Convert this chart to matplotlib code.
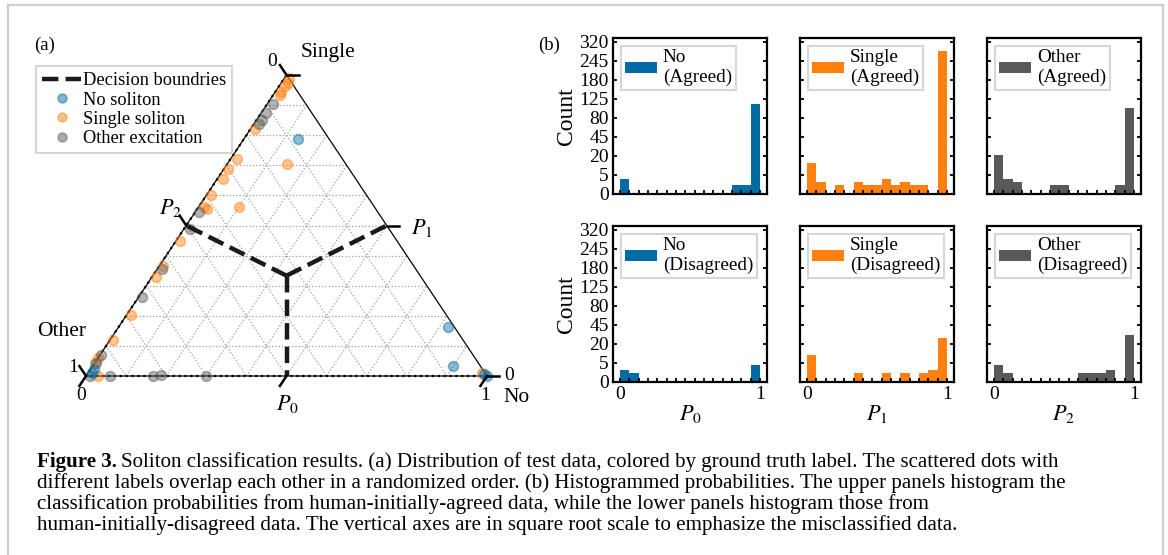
import numpy as np
import matplotlib
matplotlib.use("Agg")
import matplotlib.pyplot as plt
from matplotlib.lines import Line2D

plt.rcParams['font.family'] = ['Liberation Serif', 'DejaVu Serif']
plt.rcParams['mathtext.fontset'] = 'stix'

# ---------------- data ----------------
# ternary scatter: (P0, P1) per ground-truth class; P2 = 1 - P0 - P1
no_p0 = [0.135, 0.820, 0.898, 1.000, 0.990, 0.010, 0.009]
no_p1 = [0.789, 0.164, 0.033, 0.000, 0.005, 0.022, 0.011]

single_p0 = [0.012, 0.015, 0.015, 0.016, 0.016, 0.015, 0.010, 0.014, 0.012, 0.013,
             0.024, 0.011, 0.009, 0.011, 0.010, 0.008, 0.000, 0.030, 0.000, 0.148,
             0.099, 0.982, 0.012]
single_p1 = [0.989, 0.975, 0.962, 0.942, 0.934, 0.721, 0.689, 0.656, 0.601, 0.563,
             0.555, 0.448, 0.366, 0.328, 0.202, 0.120, 0.060, 0.000, 0.044, 0.705,
             0.563, 0.011, 0.820]

other_p0 = [0.015, 0.012, 0.014, 0.014, 0.009, 0.014, 0.011, 0.008, 0.003, 0.060,
            0.167, 0.187, 0.299, 0.009, 0.004]
other_p1 = [0.902, 0.874, 0.852, 0.836, 0.546, 0.490, 0.355, 0.262, 0.071, 0.000,
            0.000, 0.002, 0.000, 0.000, 0.044]

# histograms: 15 bins on [0, 1]
bin_edges = np.linspace(0, 1, 16)
no_agreed = [3, 0, 0, 0, 0, 0, 0, 0, 0, 0, 0, 0, 1, 1, 112]
single_agreed = [13, 2, 0, 1, 0, 2, 1, 1, 3, 1, 2, 1, 1, 0, 282]
other_agreed = [21, 3, 2, 0, 0, 0, 1, 1, 0, 0, 0, 0, 0, 1, 102]
no_disagreed = [2, 1, 0, 0, 0, 0, 0, 0, 0, 0, 0, 0, 0, 0, 4]
single_disagreed = [10, 0, 0, 0, 0, 1, 0, 0, 1, 0, 1, 0, 1, 2, 27]
other_disagreed = [4, 1, 0, 0, 0, 0, 0, 0, 0, 1, 1, 1, 2, 0, 30]

y_ticks = [0, 5, 20, 45, 80, 125, 180, 245, 320]
class_names = ["No", "Single", "Other"]
p_labels = [r"$P_0$", r"$P_1$", r"$P_2$"]

C_BLUE, C_ORANGE, C_GRAY = '#006BA4', '#FF800E', '#595959'

# ---------------- figure ----------------
W, H = 1168, 555
fig = plt.figure(figsize=(W / 100, H / 100), dpi=100)


def rect(x0, y0, x1, y1):
    return [x0 / W, 1 - y1 / H, (x1 - x0) / W, (y1 - y0) / H]


def px(x, y):
    return x / W, 1 - y / H


# border
for xs, ys in [([8, 8], [5, 555]), ([8, 1163], [5, 5]), ([1163, 1163], [5, 555])]:
    fig.add_artist(Line2D([x / W for x in xs], [1 - y / H for y in ys],
                          color='#cfcfcf', lw=1.6))

# ---------------- ternary ----------------
S = np.sqrt(3) / 2
axT = fig.add_axes(rect(86, 75, 487, 376))
axT.set_xlim(0, 1)
axT.set_ylim(0, S)
axT.axis('off')


def cart(p0, p1):
    p0 = np.asarray(p0, float)
    p1 = np.asarray(p1, float)
    return p0 + 0.5 * p1, S * p1


# grid
for v in np.arange(1, 10) / 10:
    for a, b in [((v, 0), (v, 1 - v)), ((0, v), (1 - v, v)), ((0, 1 - v), (1 - v, 0))]:
        x, y = cart([a[0], b[0]], [a[1], b[1]])
        axT.plot(x, y, color='#a0a0a0', ls=':', lw=0.9, zorder=1)

# edges
x, y = cart([0, 1, 0, 0], [0, 0, 1, 0])
axT.plot(x, y, color='black', lw=0.9, zorder=2, clip_on=False)
x, y = cart([1, 0, 0], [0, 0, 1])
axT.plot(x, y, color='black', lw=1.6, ls=':', zorder=2, clip_on=False)

# scatter
for p0, p1, c in [(single_p0, single_p1, C_ORANGE), (other_p0, other_p1, C_GRAY),
                  (no_p0, no_p1, C_BLUE)]:
    x, y = cart(p0, p1)
    axT.scatter(x, y, s=50, color=c, alpha=0.45, linewidths=1.2, zorder=3, clip_on=False)

# decision boundaries
cx, cy = cart(1 / 3, 1 / 3)
for m0, m1 in [(0.5, 0.0), (0.5, 0.5), (0.0, 0.5)]:
    mx, my = cart(m0, m1)
    axT.plot([cx, mx], [cy, my], color='#1a1a1a', lw=3.2, ls='--', zorder=4,
             solid_capstyle='butt', dash_capstyle='butt')

# ticks
k = 0.033
for v in [0, 0.5, 1]:
    x, y = cart(v, 0)                     # P0 axis (bottom)
    axT.plot([x, x - 0.5 * k], [y, y - S * k], color='black', lw=1.8, clip_on=False, zorder=5)
    x, y = cart(1 - v, v)                 # P1 axis (right)
    axT.plot([x, x + 0.03], [y, y], color='black', lw=1.8, clip_on=False, zorder=5)
    x, y = cart(0, 1 - v)                 # P2 axis (left)
    axT.plot([x, x - 0.5 * k], [y, y + S * k], color='black', lw=1.8, clip_on=False, zorder=5)

tfs = 14
for t, (xx, yy) in [("0", (272, 62)), ("1", (73, 367)), ("0", (81, 396)),
                    ("1", (485, 396)), ("0", (509, 376))]:
    fig.text(*px(xx, yy), t, fontsize=tfs, ha='center', va='center')
fig.text(*px(328, 53), "Single", fontsize=15.5, ha='center', va='center')
fig.text(*px(517, 397), "No", fontsize=15.5, ha='center', va='center')
fig.text(*px(62, 331), "Other", fontsize=15.5, ha='center', va='center')
fig.text(*px(287, 404), p_labels[0], fontsize=16, ha='center', va='center')
fig.text(*px(422, 228), p_labels[1], fontsize=16, ha='center', va='center')
fig.text(*px(171, 208), p_labels[2], fontsize=16, ha='center', va='center')
fig.text(*px(45, 45), "(a)", fontsize=13.5, ha='center', va='center')

handles = [Line2D([], [], color='#1a1a1a', lw=3.2, ls='--'),
           Line2D([], [], ls='none', marker='o', ms=6.5, color=C_BLUE, alpha=0.5),
           Line2D([], [], ls='none', marker='o', ms=6.5, color=C_ORANGE, alpha=0.5),
           Line2D([], [], ls='none', marker='o', ms=6.5, color=C_GRAY, alpha=0.5)]
leg = fig.legend(handles, ["Decision boundries", "No soliton", "Single soliton",
                           "Other excitation"],
                 loc='upper left', bbox_to_anchor=px(36, 66), fontsize=13.2,
                 fancybox=False, edgecolor='#d6d6d6', framealpha=1,
                 handlelength=2.1, handletextpad=0.1, labelspacing=0.12,
                 borderpad=0.35, borderaxespad=0)
leg.get_frame().set_linewidth(1.5)

# ---------------- histograms ----------------
rows = [[no_agreed, single_agreed, other_agreed],
        [no_disagreed, single_disagreed, other_disagreed]]
row_names = ["Agreed", "Disagreed"]
colors = [C_BLUE, C_ORANGE, C_GRAY]
xs0 = [613, 800, 987]
ys0 = [38, 226]
pw, ph = 154, 156

for r in range(2):
    for c in range(3):
        ax = fig.add_axes(rect(xs0[c], ys0[r], xs0[c] + pw, ys0[r] + ph))
        ax.bar(bin_edges[:-1], rows[r][c], width=1 / 15, align='edge', color=colors[c],
               label=f"{class_names[c]}\n({row_names[r]})")
        ax.set_yscale('function', functions=(lambda v: np.sqrt(np.clip(v, 0, None)),
                                             lambda v: np.square(v)))
        ax.set_ylim(0, 335)
        ax.set_xlim(-0.05, 1.05)
        ax.set_yticks(y_ticks)
        ax.set_xticks([0, 1])
        ax.set_xticks(bin_edges[1:-1], minor=True)
        ax.yaxis.set_minor_locator(matplotlib.ticker.NullLocator())
        ax.tick_params(which='both', direction='in', left=True, right=True, top=False,
                       length=3, width=1.3, labelsize=14, pad=3)
        if c > 0:
            ax.set_yticklabels([])
        else:
            ax.set_ylabel("Count", fontsize=17, labelpad=2)
        if r == 0:
            ax.set_xticklabels([])
        else:
            ax.set_xlabel(p_labels[c], fontsize=16, labelpad=0)
        for sp in ax.spines.values():
            sp.set_linewidth(1.6)
        lg = ax.legend(loc='upper left', fontsize=13.8, fancybox=False,
                       edgecolor='#d6d6d6', framealpha=1, handlelength=1.7,
                       handleheight=0.5, handletextpad=0.3, borderpad=0.2,
                       borderaxespad=0.4, labelspacing=0.1)
        lg.get_frame().set_linewidth(1.5)

fig.text(*px(549, 45), "(b)", fontsize=13.5, ha='center', va='center')

# ---------------- caption ----------------
cfs = 15.15
lines = ["Soliton classification results. (a) Distribution of test data, colored by ground truth label. The scattered dots with",
         "different labels overlap each other in a randomized order. (b) Histogrammed probabilities. The upper panels histogram the",
         "classification probabilities from human-initially-agreed data, while the lower panels histogram those from",
         "human-initially-disagreed data. The vertical axes are in square root scale to emphasize the misclassified data."]
t0 = fig.text(*px(37, 462), "Figure 3.", fontsize=cfs, weight='bold', va='center', ha='left')
fig.canvas.draw()
bb = t0.get_window_extent()
fig.text((bb.x1 + 4) / W, 1 - 462 / H, lines[0], fontsize=cfs, va='center', ha='left')
for i, ln in enumerate(lines[1:]):
    fig.text(*px(37, 483 + 21 * i), ln, fontsize=cfs, va='center', ha='left')

fig.savefig("out.png", dpi=100)
